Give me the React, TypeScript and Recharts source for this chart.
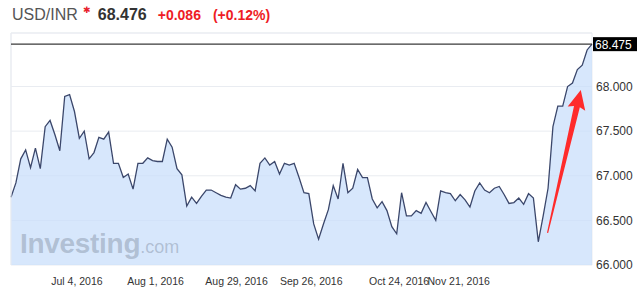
import React from "react";
import {
  Area,
  AreaChart,
  CartesianGrid,
  ReferenceLine,
  XAxis,
  YAxis
} from "recharts";

// USD/INR daily closes, one per trading day (index 0 = mid June 2016, 119 = Nov 23 2016)
const CLOSES = [
  66.76, 66.92, 67.19, 67.29, 67.09, 67.31, 67.08, 67.55, 67.62, 67.46,
  67.28, 67.89, 67.91, 67.72, 67.42, 67.5, 67.19, 67.26, 67.43, 67.41,
  67.49, 67.14, 67.14, 66.98, 67.02, 66.85, 67.14, 67.14, 67.2, 67.17,
  67.16, 67.16, 67.41, 67.32, 67.08, 67.01, 66.66, 66.76, 66.69, 66.77,
  66.84, 66.84, 66.81, 66.78, 66.76, 66.75, 66.9, 66.85, 66.86, 66.89,
  66.83, 67.14, 67.2, 67.12, 67.16, 67.02, 67.14, 67.12, 67.14, 66.98,
  66.81, 66.8, 66.46, 66.29, 66.46, 66.62, 66.89, 66.74, 67.14, 66.81,
  66.86, 67.07, 66.98, 66.98, 66.74, 66.64, 66.71, 66.61, 66.43, 66.35,
  66.81, 66.55, 66.55, 66.61, 66.58, 66.7, 66.6, 66.5, 66.83, 66.81,
  66.8, 66.72, 66.79, 66.73, 66.65, 66.83, 66.92, 66.84, 66.81, 66.86,
  66.88, 66.79, 66.69, 66.7, 66.75, 66.68, 66.8, 66.75, 66.26, 66.55,
  66.86, 67.55, 67.78, 67.78, 68.0, 68.04, 68.19, 68.24, 68.41, 68.475
];

// trading-day index of each 4-week gridline (Jul 4, Aug 1, ... Nov 21)
const GRID_DAYS = [17, 37, 57, 77, 97, 117];
// where investing.com actually prints the date labels (in trading-day units)
const LABEL_DAYS = [13.5, 29.6, 46.2, 61.5, 79.5, 91.7];
const DATE_LABELS = [
  "Jul 4, 2016",
  "Aug 1, 2016",
  "Aug 29, 2016",
  "Sep 26, 2016",
  "Oct 24, 2016",
  "Nov 21, 2016"
];
const PRICE_TICKS = [66, 66.5, 67, 67.5, 68];
const PRICE_DOMAIN = [66, 68.6];

// arrow annotation: tail and tip, in (day, price)
const ARROW = [
  { x: 109.9, y: 66.36 },
  { x: 116.7, y: 67.96 }
];

const HEADER = {
  pair: "USD/INR",
  last: "68.476",
  change: "+0.086",
  changePct: "(+0.12%)"
};

const FONT = '"Liberation Sans", Arial, Helvetica, sans-serif';

const data = CLOSES.map((v, i) => ({ i, v }));
const lastClose = CLOSES[CLOSES.length - 1];

function Arrow(props: any) {
  const { x1, y1, x2, y2 } = props;
  const dx = x2 - x1;
  const dy = y2 - y1;
  const len = Math.sqrt(dx * dx + dy * dy);
  const ux = dx / len;
  const uy = dy / len;
  const px = -uy;
  const py = ux;
  const headLen = 19;
  const bx = x2 - ux * headLen;
  const by = y2 - uy * headLen;
  const pts = [
    [x1 + px * 0.6, y1 + py * 0.6],
    [bx + ux * 2 + px * 3, by + uy * 2 + py * 3],
    [bx + px * 9, by + py * 9],
    [x2, y2],
    [bx - px * 9, by - py * 9],
    [bx + ux * 2 - px * 3, by + uy * 2 - py * 3],
    [x1 - px * 0.6, y1 - py * 0.6]
  ];
  return (
    <polygon
      points={pts.map((p) => p.join(",")).join(" ")}
      fill="#ff2b2b"
    />
  );
}

function LastLabel(props: any) {
  const { viewBox } = props;
  const x = viewBox.x + viewBox.width + 1;
  const y = viewBox.y;
  return (
    <g>
      <rect x={x} y={y - 7} width={44} height={14} fill="#000" />
      <text
        x={x + 2}
        y={y + 4.5}
        fill="#fff"
        fontSize={12}
        fontFamily={FONT}
      >
        {lastClose.toFixed(3)}
      </text>
    </g>
  );
}

function DateTick(props: any) {
  const { x, y, payload } = props;
  return (
    <text
      x={x}
      y={y + 12}
      textAnchor="middle"
      fontSize={10.5}
      fill="#333"
      fontFamily={FONT}
    >
      {DATE_LABELS[LABEL_DAYS.indexOf(payload.value)]}
    </text>
  );
}

export default function App() {
  return (
    <div
      style={{
        position: "absolute",
        left: 0,
        top: 0,
        width: 640,
        height: 293,
        background: "#fff",
        fontFamily: FONT,
        overflow: "hidden"
      }}
    >
      <div
        style={{
          position: "absolute",
          left: 12,
          top: 5,
          whiteSpace: "nowrap",
          lineHeight: "20px"
        }}
      >
        <span style={{ fontSize: 16, color: "#555" }}>{HEADER.pair}</span>
        <span
          style={{
            fontSize: 9,
            color: "#e8202a",
            position: "relative",
            top: -7,
            marginLeft: 5,
            marginRight: 2
          }}
        >
          ✱
        </span>
        <span
          style={{
            fontSize: 16,
            fontWeight: "bold",
            color: "#333",
            marginLeft: 5
          }}
        >
          {HEADER.last}
        </span>
        <span
          style={{
            fontSize: 14,
            fontWeight: "bold",
            color: "#ee1c25",
            marginLeft: 11
          }}
        >
          {HEADER.change}
        </span>
        <span
          style={{
            fontSize: 14,
            fontWeight: "bold",
            color: "#ee1c25",
            marginLeft: 12
          }}
        >
          {HEADER.changePct}
        </span>
      </div>

      <AreaChart
        width={640}
        height={293}
        data={data}
        margin={{ top: 33, right: 0, left: 11, bottom: 1 }}
      >
        <CartesianGrid stroke="#e9ecf1" strokeWidth={1} />
        <XAxis
          dataKey="i"
          type="number"
          domain={[0, 119]}
          ticks={GRID_DAYS}
          tick={false}
          tickLine={false}
          axisLine={false}
          height={0}
        />
        <XAxis
          xAxisId="labels"
          dataKey="i"
          type="number"
          domain={[0, 119]}
          ticks={LABEL_DAYS}
          interval={0}
          tickLine={false}
          axisLine={false}
          height={27}
          tick={DateTick}
        />
        <YAxis
          orientation="right"
          domain={PRICE_DOMAIN}
          ticks={PRICE_TICKS}
          allowDataOverflow
          width={48}
          tickLine={false}
          axisLine={false}
          tickSize={2}
          tickMargin={2}
          tick={{ fontSize: 12, fill: "#333", fontFamily: FONT }}
          tickFormatter={(v: number) => v.toFixed(3)}
        />
        <ReferenceLine y={PRICE_DOMAIN[1]} stroke="#e9ecf1" />
        <ReferenceLine x={0} stroke="#e9ecf1" />
        <Area
          type="linear"
          dataKey="v"
          stroke="#3b476b"
          strokeWidth={1.3}
          fill="#c7defb"
          fillOpacity={0.72}
          dot={false}
          activeDot={false}
          isAnimationActive={false}
        />
        <ReferenceLine
          y={lastClose}
          stroke="#3a3a3a"
          strokeWidth={1.2}
          label={LastLabel}
        />
        <ReferenceLine segment={ARROW} shape={Arrow} />
      </AreaChart>

      <div
        style={{
          position: "absolute",
          left: 20,
          top: 228,
          whiteSpace: "nowrap",
          color: "rgba(105,118,138,0.36)",
          pointerEvents: "none"
        }}
      >
        <span style={{ fontSize: 28, fontWeight: "bold", letterSpacing: -0.3 }}>
          Investing
        </span>
        <span style={{ fontSize: 18 }}>.com</span>
      </div>
    </div>
  );
}
